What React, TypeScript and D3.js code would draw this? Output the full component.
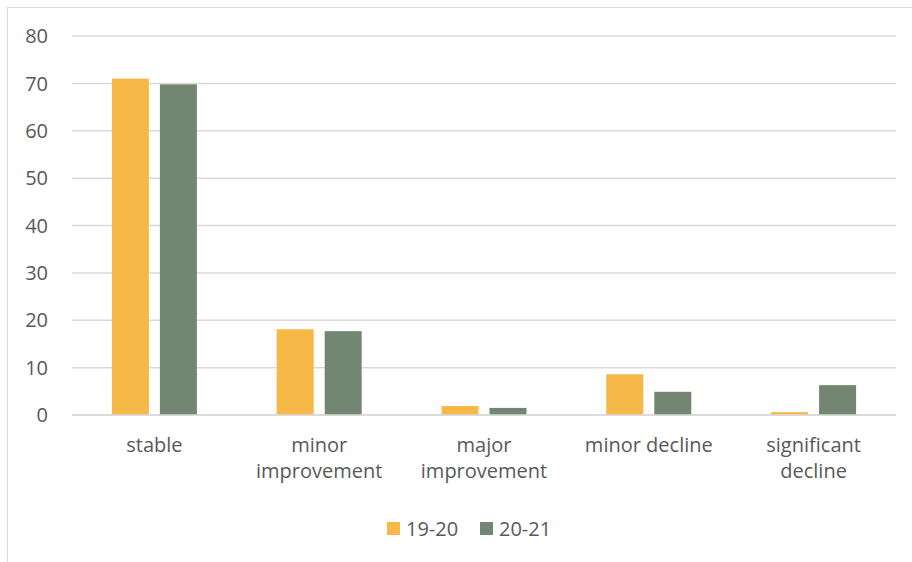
import React, { useEffect, useRef } from "react";
import * as d3 from "d3";

const categories = [
  ["stable"],
  ["minor", "improvement"],
  ["major", "improvement"],
  ["minor decline"],
  ["significant", "decline"],
];
const seriesNames = ["19-20", "20-21"];
const values1920 = [71, 18.1, 1.9, 8.6, 0.6];
const values2021 = [69.8, 17.7, 1.5, 4.9, 6.3];
const yTicks = [0, 10, 20, 30, 40, 50, 60, 70, 80];
const colors = ["#F6B846", "#728672"];

const App = () => {
  const ref = useRef<SVGSVGElement>(null);

  useEffect(() => {
    const width = 912;
    const height = 562;
    const margin = { top: 36, right: 16, bottom: 147, left: 72 };
    const font = "'Open Sans', 'Liberation Sans', sans-serif";
    const textColor = "#595959";

    const svg = d3.select(ref.current);
    svg.selectAll("*").remove();

    // chart area border (extends off the page at right/bottom)
    svg
      .append("rect")
      .attr("x", 7.5)
      .attr("y", 7.5)
      .attr("width", width)
      .attr("height", height)
      .attr("fill", "#fff")
      .attr("stroke", "#d9d9d9")
      .attr("stroke-width", 1);

    const idx = categories.map((_, i) => i);
    const x0 = d3
      .scaleBand<number>()
      .domain(idx)
      .range([margin.left, width - margin.right])
      .padding(0);

    const bw = x0.bandwidth();
    const groupW = 85;
    const x1 = d3
      .scaleBand<string>()
      .domain(seriesNames)
      .range([(bw - groupW) / 2, (bw + groupW) / 2])
      .paddingInner(0.229)
      .paddingOuter(0);

    const y = d3
      .scaleLinear()
      .domain([0, 80])
      .range([height - margin.bottom, margin.top]);

    // gridlines
    svg
      .append("g")
      .selectAll("line")
      .data(yTicks)
      .enter()
      .append("line")
      .attr("x1", margin.left)
      .attr("x2", width - margin.right)
      .attr("y1", (d) => y(d))
      .attr("y2", (d) => y(d))
      .attr("stroke", "#d9d9d9")
      .attr("stroke-width", 1.5);

    // y tick labels
    svg
      .append("g")
      .selectAll("text")
      .data(yTicks)
      .enter()
      .append("text")
      .attr("x", 48)
      .attr("y", (d) => y(d))
      .attr("dy", "0.36em")
      .attr("text-anchor", "end")
      .attr("font-family", font)
      .attr("font-size", 20)
      .attr("fill", textColor)
      .text((d) => d);

    // bars
    const series = [values1920, values2021];
    series.forEach((vals, s) => {
      svg
        .append("g")
        .selectAll("rect")
        .data(vals)
        .enter()
        .append("rect")
        .attr("x", (_, i) => (x0(i) as number) + (x1(seriesNames[s]) as number))
        .attr("y", (d) => y(d))
        .attr("width", x1.bandwidth())
        .attr("height", (d) => y(0) - y(d))
        .attr("fill", colors[s]);
    });

    // baseline on top of bars
    svg
      .append("line")
      .attr("x1", margin.left)
      .attr("x2", width - margin.right)
      .attr("y1", y(0))
      .attr("y2", y(0))
      .attr("stroke", "#d9d9d9")
      .attr("stroke-width", 1.5);

    // category labels
    const labels = svg
      .append("g")
      .selectAll("text")
      .data(categories)
      .enter()
      .append("text")
      .attr("x", (_, i) => (x0(i) as number) + bw / 2)
      .attr("y", 452)
      .attr("text-anchor", "middle")
      .attr("font-family", font)
      .attr("font-size", 20)
      .attr("fill", textColor);
    labels
      .selectAll("tspan")
      .data((d) => d)
      .enter()
      .append("tspan")
      .attr("x", function () {
        return (this.parentNode as SVGTextElement).getAttribute("x");
      })
      .attr("dy", (_, j) => (j === 0 ? 0 : 26))
      .text((d) => d);

    // legend
    const legend = svg.append("g");
    const legendX = [387, 480];
    seriesNames.forEach((name, s) => {
      legend
        .append("rect")
        .attr("x", legendX[s])
        .attr("y", 522)
        .attr("width", 13)
        .attr("height", 13)
        .attr("fill", colors[s]);
      legend
        .append("text")
        .attr("x", legendX[s] + 19)
        .attr("y", 536)
        .attr("font-family", font)
        .attr("font-size", 20)
        .attr("fill", textColor)
        .text(name);
    });
  }, []);

  return (
    <svg
      ref={ref}
      width={912}
      height={562}
      style={{ position: "absolute", left: 0, top: 0 }}
    />
  );
};

export default App;
